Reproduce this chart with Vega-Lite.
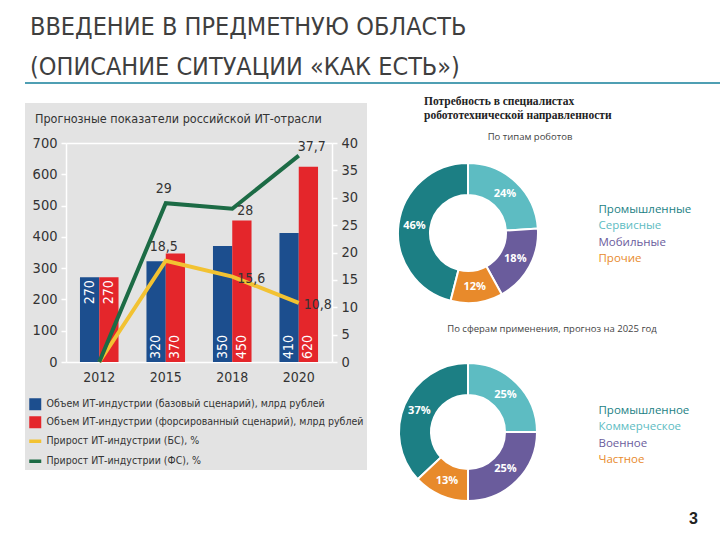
{
  "$schema": "https://vega.github.io/schema/vega-lite/v6.json",
  "background": "white",
  "padding": {"left": 25, "top": 15, "right": 0, "bottom": 0},
  "datasets": {
    "volume": [
      {"year": "2012", "series": "Объем ИТ-индустрии (базовый сценарий), млрд рублей", "value": 271, "label": "270"},
      {"year": "2012", "series": "Объем ИТ-индустрии (форсированный сценарий), млрд рублей", "value": 271, "label": "270"},
      {"year": "2015", "series": "Объем ИТ-индустрии (базовый сценарий), млрд рублей", "value": 322, "label": "320"},
      {"year": "2015", "series": "Объем ИТ-индустрии (форсированный сценарий), млрд рублей", "value": 347, "label": "370"},
      {"year": "2018", "series": "Объем ИТ-индустрии (базовый сценарий), млрд рублей", "value": 371, "label": "350"},
      {"year": "2018", "series": "Объем ИТ-индустрии (форсированный сценарий), млрд рублей", "value": 452, "label": "450"},
      {"year": "2020", "series": "Объем ИТ-индустрии (базовый сценарий), млрд рублей", "value": 412, "label": "410"},
      {"year": "2020", "series": "Объем ИТ-индустрии (форсированный сценарий), млрд рублей", "value": 624, "label": "620"}
    ],
    "growth": [
      {"year": "2012", "series": "Прирост ИТ-индустрии (БС), %", "value": 0},
      {"year": "2015", "series": "Прирост ИТ-индустрии (БС), %", "value": 18.5},
      {"year": "2018", "series": "Прирост ИТ-индустрии (БС), %", "value": 15.6},
      {"year": "2020", "series": "Прирост ИТ-индустрии (БС), %", "value": 10.8},
      {"year": "2012", "series": "Прирост ИТ-индустрии (ФС), %", "value": 0},
      {"year": "2015", "series": "Прирост ИТ-индустрии (ФС), %", "value": 29},
      {"year": "2018", "series": "Прирост ИТ-индустрии (ФС), %", "value": 28},
      {"year": "2020", "series": "Прирост ИТ-индустрии (ФС), %", "value": 37.7}
    ],
    "robots": [
      {"type": "Промышленные", "share": 0.46},
      {"type": "Сервисные", "share": 0.24},
      {"type": "Мобильные", "share": 0.18},
      {"type": "Прочие", "share": 0.12}
    ],
    "spheres": [
      {"type": "Промышленное", "share": 0.37},
      {"type": "Коммерческое", "share": 0.25},
      {"type": "Военное", "share": 0.25},
      {"type": "Частное", "share": 0.13}
    ]
  },
  "config": {
    "font": "DejaVu Sans Condensed, sans-serif",
    "view": {"stroke": null},
    "locale": {"number": {"decimal": ",", "thousands": " ", "grouping": [3], "currency": ["", ""]}},
    "title": {"fontWeight": "normal"}
  },
  "spacing": 19,
  "bounds": "flush",
  "resolve": {"scale": {"color": "independent", "theta": "independent"}, "legend": {"color": "independent"}},
  "vconcat": [
    {
      "width": 695,
      "height": 2,
      "data": {"values": []},
      "mark": "point",
      "view": {"fill": "#4f9fb3", "stroke": null},
      "title": {
        "text": ["ВВЕДЕНИЕ В ПРЕДМЕТНУЮ ОБЛАСТЬ", "(ОПИСАНИЕ СИТУАЦИИ «КАК ЕСТЬ»)"],
        "anchor": "start", "frame": "group", "dx": 5, "offset": 2,
        "fontSize": 25, "lineHeight": 40, "color": "#3f3f3f",
        "font": "DejaVu Sans Condensed, sans-serif"
      }
    },
    {
      "spacing": 28,
      "bounds": "flush",
      "resolve": {"scale": {"color": "independent", "theta": "independent"}, "legend": {"color": "independent"}},
      "title": {"text": "3", "orient": "bottom", "anchor": "end", "frame": "group", "dx": 673, "offset": 6, "fontSize": 16, "fontWeight": "bold", "font": "Liberation Sans", "color": "#222"},
      "hconcat": [
        {
          "width": 342,
          "height": 367,
          "view": {"fill": "#e3e3e3", "stroke": null},
          "title": {"text": "Прогнозные показатели российской ИТ-отрасли", "anchor": "start", "frame": "group", "dx": 10, "dy": 22, "offset": 0, "fontSize": 12.5, "color": "#333"},
          "resolve": {"scale": {"y": "independent"}},
          "layer": [
            {
              "data": {"name": "volume"},
              "encoding": {
                "x": {
                  "field": "year", "type": "ordinal",
                  "scale": {"range": [41, 307], "paddingInner": 0.42, "paddingOuter": 0.21},
                  "axis": {"orient": "bottom", "offset": -108, "title": null, "labelAngle": 0, "ticks": false, "domainColor": "white", "domainWidth": 1.5, "labelFontSize": 14, "labelColor": "#333", "labelPadding": 8}
                },
                "color": {
                  "field": "series", "type": "nominal",
                  "scale": {
                    "domain": ["Объем ИТ-индустрии (базовый сценарий), млрд рублей", "Объем ИТ-индустрии (форсированный сценарий), млрд рублей", "Прирост ИТ-индустрии (БС), %", "Прирост ИТ-индустрии (ФС), %"],
                    "range": ["#1c4e8e", "#e4262b", "#f2c232", "#1c6b45"]
                  },
                  "legend": {
                    "orient": "none", "legendX": 5, "legendY": 296, "title": null,
                    "labelFontSize": 10.5, "labelColor": "#333", "labelLimit": 330, "labelOffset": 6,
                    "symbolType": "square", "symbolSize": 144, "rowPadding": 5,
                    "encode": {
                      "symbols": {"update": {
                        "shape": {"signal": "datum.index >= 2 ? 'stroke' : 'square'"},
                        "fill": {"signal": "['#1c4e8e','#e4262b','#f2c232','#1c6b45'][datum.index]"},
                        "stroke": {"signal": "['#1c4e8e','#e4262b','#f2c232','#1c6b45'][datum.index]"},
                        "strokeWidth": {"signal": "datum.index >= 2 ? 3.5 : 0"},
                        "opacity": {"value": 1}
                      }}
                    }
                  }
                }
              },
              "layer": [
                {
                  "mark": {"type": "bar"},
                  "encoding": {
                    "xOffset": {"field": "series", "type": "nominal"},
                    "y": {
                      "field": "value", "type": "quantitative", "stack": null,
                      "scale": {"domain": [0, 700], "range": [259, 40], "nice": false},
                      "axis": {
                        "orient": "left", "offset": -41, "title": null,
                        "values": [0, 100, 200, 300, 400, 500, 600, 700],
                        "domainColor": "white", "domainWidth": 1.5, "tickColor": "white", "tickSize": 5, "tickWidth": 1.5,
                        "labelFontSize": 14.5, "labelColor": "#333", "labelPadding": 4,
                        "grid": true, "gridColor": "white", "gridWidth": 1.5,
                        "gridOpacity": {"condition": {"test": "datum.value === 700", "value": 1}, "value": 0}
                      }
                    }
                  }
                },
                {
                  "transform": [{"filter": "datum.year != '2012'"}],
                  "mark": {"type": "text", "angle": 270, "align": "left", "baseline": "middle", "dx": 3, "fontSize": 14, "fill": "white"},
                  "encoding": {
                    "xOffset": {"field": "series", "type": "nominal"},
                    "y": {"datum": 0, "type": "quantitative"},
                    "text": {"field": "label", "type": "nominal"},
                    "color": {"value": "white"}
                  }
                },
                {
                  "transform": [{"filter": "datum.year == '2012'"}],
                  "mark": {"type": "text", "angle": 270, "align": "right", "baseline": "middle", "dx": -3, "fontSize": 14, "fill": "white"},
                  "encoding": {
                    "xOffset": {"field": "series", "type": "nominal"},
                    "y": {"field": "value", "type": "quantitative", "stack": null},
                    "text": {"field": "label", "type": "nominal"},
                    "color": {"value": "white"}
                  }
                }
              ]
            },
            {
              "data": {"name": "growth"},
              "encoding": {
                "x": {
                  "field": "year", "type": "ordinal", "bandPosition": 0.5,
                  "scale": {"range": [41, 307], "paddingInner": 0.42, "paddingOuter": 0.21},
                  "axis": {"orient": "bottom", "offset": -108, "title": null, "labelAngle": 0, "ticks": false, "domainColor": "white", "domainWidth": 1.5, "labelFontSize": 14, "labelColor": "#333", "labelPadding": 8}
                },
                "y": {
                  "field": "value", "type": "quantitative",
                  "scale": {"domain": [0, 40], "range": [259, 40], "nice": false},
                  "axis": {
                    "orient": "right", "offset": -35, "title": null,
                    "values": [0, 5, 10, 15, 20, 25, 30, 35, 40],
                    "domainColor": "white", "domainWidth": 1.5, "tickColor": "white", "tickSize": 5, "tickWidth": 1.5,
                    "labelFontSize": 14.5, "labelColor": "#333", "labelPadding": 4, "grid": false
                  }
                }
              },
              "layer": [
                {
                  "mark": {"type": "line", "strokeWidth": 4},
                  "encoding": {
                    "color": {
                      "field": "series", "type": "nominal",
                      "scale": {
                        "domain": ["Объем ИТ-индустрии (базовый сценарий), млрд рублей", "Объем ИТ-индустрии (форсированный сценарий), млрд рублей", "Прирост ИТ-индустрии (БС), %", "Прирост ИТ-индустрии (ФС), %"],
                        "range": ["#1c4e8e", "#e4262b", "#f2c232", "#1c6b45"]
                      },
                      "legend": {
                        "orient": "none", "legendX": 5, "legendY": 296, "title": null,
                        "labelFontSize": 10.5, "labelColor": "#333", "labelLimit": 330, "labelOffset": 6,
                        "symbolType": "square", "symbolSize": 144, "rowPadding": 5,
                        "encode": {
                          "symbols": {"update": {
                            "shape": {"signal": "datum.index >= 2 ? 'stroke' : 'square'"},
                            "fill": {"signal": "['#1c4e8e','#e4262b','#f2c232','#1c6b45'][datum.index]"},
                            "stroke": {"signal": "['#1c4e8e','#e4262b','#f2c232','#1c6b45'][datum.index]"},
                            "strokeWidth": {"signal": "datum.index >= 2 ? 3.5 : 0"},
                            "opacity": {"value": 1}
                          }}
                        }
                      }
                    }
                  }
                },
                {
                  "transform": [{"filter": "datum.year == '2015'"}],
                  "mark": {"type": "text", "align": "center", "baseline": "middle", "dx": -2, "dy": -14, "fontSize": 14, "fill": "#333"},
                  "encoding": {"text": {"field": "value", "type": "quantitative", "format": ".3~r"}}
                },
                {
                  "transform": [{"filter": "datum.year == '2018' || (datum.year == '2020' && datum.series == 'Прирост ИТ-индустрии (БС), %')"}],
                  "mark": {"type": "text", "align": "left", "baseline": "middle", "dx": 5, "dy": 2, "fontSize": 14, "fill": "#333"},
                  "encoding": {"text": {"field": "value", "type": "quantitative", "format": ".3~r"}}
                },
                {
                  "transform": [{"filter": "datum.year == '2020' && datum.series == 'Прирост ИТ-индустрии (ФС), %'"}],
                  "mark": {"type": "text", "align": "left", "baseline": "middle", "dx": -1, "dy": -9, "fontSize": 14, "fill": "#333"},
                  "encoding": {"text": {"field": "value", "type": "quantitative", "format": ".3~r"}}
                }
              ]
            }
          ]
        },
        {
          "spacing": 0,
          "bounds": "flush",
          "resolve": {"scale": {"color": "independent", "theta": "independent"}, "legend": {"color": "independent"}},
          "title": {
            "text": ["Потребность в специалистах", "робототехнической направленности"],
            "anchor": "start", "frame": "group", "dx": 29, "dy": 18, "offset": 0,
            "font": "Liberation Serif", "fontSize": 11.5, "fontWeight": "bold", "color": "#222", "lineHeight": 14
          },
          "vconcat": [
            {
              "width": 146,
              "height": 260,
              "data": {"name": "robots"},
              "title": {"text": "По типам роботов", "anchor": "middle", "frame": "group", "dx": 62, "dy": 38, "offset": 0, "font": "Open Sans", "fontSize": 9.5, "color": "#444"},
              "encoding": {
                "theta": {"field": "share", "type": "quantitative", "stack": true, "scale": {"range": [-2.8903, 3.3929]}},
                "order": {"field": "share", "sort": "descending"}
              },
              "layer": [
                {
                  "mark": {"type": "arc", "outerRadius": 70, "innerRadius": 38, "stroke": "white", "strokeWidth": 2},
                  "encoding": {
                    "color": {
                      "field": "type", "type": "nominal",
                      "scale": {"domain": ["Промышленные", "Сервисные", "Мобильные", "Прочие"], "range": ["#1c7f84", "#5dbcc2", "#6a5c9c", "#e88a2b"]},
                      "legend": {
                        "orient": "none", "legendX": 192, "legendY": 101, "title": null,
                        "symbolOpacity": 0, "symbolSize": 1, "labelOffset": 0, "rowPadding": 3.5,
                        "labelFont": "Open Sans", "labelFontSize": 11.5,
                        "labelColor": {"expr": "['#1c7f84','#5dbcc2','#6a5c9c','#e88a2b'][datum.index]"},
                        "encode": {"labels": {
                          "enter": {"fill": {"signal": "['#1c7f84','#5dbcc2','#6a5c9c','#e88a2b'][datum.index]"}},
                          "update": {"fill": {"signal": "['#1c7f84','#5dbcc2','#6a5c9c','#e88a2b'][datum.index]"}}
                        }}
                      }
                    }
                  }
                },
                {
                  "mark": {"type": "text", "radius": 54, "fill": "white", "font": "Open Sans", "fontSize": 11, "fontWeight": "bold"},
                  "encoding": {
                    "detail": {"field": "type", "type": "nominal"},
                    "text": {"field": "share", "type": "quantitative", "format": ".0%"}
                  }
                }
              ]
            },
            {
              "width": 146,
              "height": 138,
              "data": {"name": "spheres"},
              "title": {"text": "По сферам применения, прогноз на 2025 год", "anchor": "middle", "frame": "group", "dx": 84, "offset": 26, "font": "Open Sans", "fontSize": 9.5, "color": "#444"},
              "encoding": {
                "theta": {"field": "share", "type": "quantitative", "stack": true, "scale": {"range": [-2.3248, 3.9584]}},
                "order": {"field": "share", "sort": "descending"}
              },
              "layer": [
                {
                  "mark": {"type": "arc", "outerRadius": 69, "innerRadius": 37, "stroke": "white", "strokeWidth": 2},
                  "encoding": {
                    "color": {
                      "field": "type", "type": "nominal",
                      "scale": {"domain": ["Промышленное", "Коммерческое", "Военное", "Частное"], "range": ["#1c7f84", "#5dbcc2", "#6a5c9c", "#e88a2b"]},
                      "legend": {
                        "orient": "none", "legendX": 192, "legendY": 42, "title": null,
                        "symbolOpacity": 0, "symbolSize": 1, "labelOffset": 0, "rowPadding": 3.5,
                        "labelFont": "Open Sans", "labelFontSize": 11.5,
                        "labelColor": {"expr": "['#1c7f84','#5dbcc2','#6a5c9c','#e88a2b'][datum.index]"},
                        "encode": {"labels": {
                          "enter": {"fill": {"signal": "['#1c7f84','#5dbcc2','#6a5c9c','#e88a2b'][datum.index]"}},
                          "update": {"fill": {"signal": "['#1c7f84','#5dbcc2','#6a5c9c','#e88a2b'][datum.index]"}}
                        }}
                      }
                    }
                  }
                },
                {
                  "mark": {"type": "text", "radius": 53, "fill": "white", "font": "Open Sans", "fontSize": 11, "fontWeight": "bold"},
                  "encoding": {
                    "detail": {"field": "type", "type": "nominal"},
                    "text": {"field": "share", "type": "quantitative", "format": ".0%"}
                  }
                }
              ]
            }
          ]
        }
      ]
    }
  ]
}
